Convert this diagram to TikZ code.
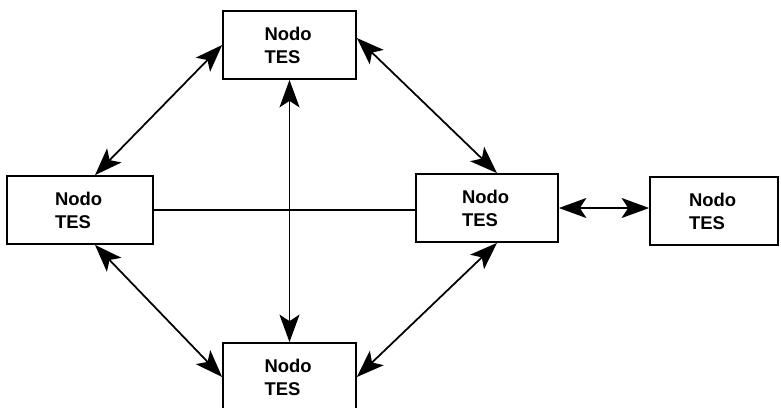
\documentclass[tikz,border=0pt]{standalone}
\usepackage{fontspec}
\setmainfont{Liberation Sans}
\usetikzlibrary{arrows.meta}

\begin{document}
\begin{tikzpicture}[
		x=0.02cm, y=-0.02cm,
		tes/.style={rectangle,draw=black,line width=1pt,fill=white,
		minimum height=1.36cm,text width=1cm,align=left,
		font=\fontsize{10.5}{13}\selectfont\bfseries},
		bigtip/.tip={Stealth[length=5.5mm,width=4mm,inset=1.3mm]},
		link/.style={bigtip-bigtip,draw=black,line width=1pt}
		]
		\useasboundingbox (0,0) rectangle (781,407);
		\node[tes,minimum width=2.66cm] (tesT) at (289.5,45) {Nodo\\TES};
		\node[tes,minimum width=2.92cm] (tesL) at (80,210) {Nodo\\TES};
		\node[tes,minimum width=2.84cm] (tesM) at (487,208) {Nodo\\TES};
		\node[tes,minimum width=2.56cm] (tesR) at (714,211) {Nodo\\TES};
		\node[tes,minimum width=2.66cm] (tesB) at (289.5,377) {Nodo\\TES};
		\draw[line width=0.8pt] (tesL.east) -- (tesL.east -| tesM.west);
		\draw[link] (tesT.west) -- ([xshift=0.3cm]tesL.north);
		\draw[link] ([yshift=0.14cm]tesT.east) -- ([xshift=0.2cm]tesM.north);
		\draw[link] (tesT.south) -- (tesB.north);
		\draw[link] ([xshift=0.3cm]tesL.south) -- (tesB.west);
		\draw[link] ([xshift=0.2cm]tesM.south) -- (tesB.east);
		\draw[link] (tesM.east) -- (tesM.east -| tesR.west);
	\end{tikzpicture}
\end{document}
